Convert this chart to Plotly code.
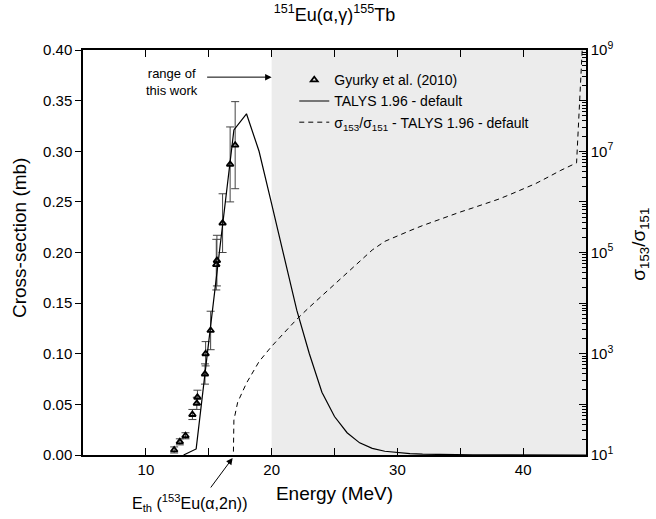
import plotly.graph_objects as go

# Measured 151Eu(a,g)155Tb cross sections (Gyurky et al. 2010)
exp_energy = [12.25, 12.7, 13.15, 13.7, 14.05, 14.1, 14.7, 14.75, 15.15, 15.6, 15.65, 16.1, 16.7, 17.1]
exp_sigma = [0.005, 0.013, 0.019, 0.040, 0.051, 0.057, 0.080, 0.100, 0.123, 0.188, 0.192, 0.229, 0.287, 0.306]
exp_err = [0.003, 0.003, 0.003, 0.005, 0.006, 0.007, 0.010, 0.012, 0.019, 0.025, 0.025, 0.029, 0.037, 0.043]

# TALYS 1.96 default cross section (mb)
talys_energy = [13, 14, 15, 16, 17, 18, 19, 20, 21, 22, 23, 24, 25, 26, 27, 28, 29, 30,
                31, 32, 33, 34, 35, 36, 37, 38, 39, 40, 41, 42, 43, 44, 45]
talys_sigma = [0.0, 0.006, 0.112, 0.218, 0.321, 0.337, 0.300, 0.248, 0.195, 0.143, 0.100,
               0.062, 0.038, 0.022, 0.012, 0.0065, 0.0037, 0.0022, 0.0013, 0.0008, 0.0005,
               0.0003, 0.0002, 0.0001, 0.0001, 0.0, 0.0, 0.0, 0.0, 0.0, 0.0, 0.0, 0.0]

# TALYS ratio sigma_153 / sigma_151
ratio_energy = [16.9, 17.0, 17.3, 18, 19, 20, 21, 22, 23, 24, 25, 26, 27, 28, 29, 30, 31, 32, 33,
                34, 35, 36, 37, 38, 39, 40, 41, 42, 43, 44.25, 45]
ratio_value = [1.0, 49, 110, 263, 700, 1.4e3, 2.6e3, 4.8e3, 8.3e3, 1.4e4, 2.3e4, 4.0e4, 6.8e4,
               1.12e5, 1.66e5, 2.14e5, 2.7e5, 3.4e5, 4.2e5, 5.1e5, 6.3e5, 7.6e5, 9.1e5,
               1.12e6, 1.41e6, 1.78e6, 2.3e6, 3.1e6, 4.2e6, 5.9e6, 3.2e10]

# Right-axis labels
ratio_ticks = [10, 1e2, 1e3, 1e4, 1e5, 1e6, 1e7, 1e8, 1e9]
ratio_ticktext = ["10<sup>1</sup>", "", "10<sup>3</sup>", "", "10<sup>5</sup>", "",
                  "10<sup>7</sup>", "", "10<sup>9</sup>"]
ratio_minor = [m * 10 ** d for d in range(1, 9) for m in range(2, 10)]

FONT = "Arial, Liberation Sans, sans-serif"

fig = go.Figure()

fig.add_trace(go.Scatter(
    x=exp_energy, y=exp_sigma, mode="markers", name="Gyurky et al. (2010)",
    marker=dict(symbol="triangle-up-open", size=6, color="black", line=dict(width=1.8, color="black")),
    error_y=dict(type="data", array=exp_err, visible=True, color="#444444", thickness=1, width=4),
    cliponaxis=False,
))

fig.add_trace(go.Scatter(
    x=talys_energy, y=talys_sigma, mode="lines", name="TALYS 1.96 - default",
    line=dict(color="black", width=1.2),
))

fig.add_trace(go.Scatter(
    x=ratio_energy, y=ratio_value, mode="lines", yaxis="y2",
    name="σ<sub>153</sub>/σ<sub>151</sub> - TALYS 1.96 - default",
    line=dict(color="black", width=1, dash="5px,4px"),
))

# shaded energy range covered by this work
fig.add_shape(type="rect", xref="x", yref="paper", x0=20, x1=45, y0=0, y1=1,
              fillcolor="#ececec", line=dict(width=0), layer="below")

annotations = [
    dict(x=0.375, y=0.933, xref="paper", yref="paper", ax=-66, ay=0,
         text="", showarrow=True, arrowhead=2, arrowsize=1.3, arrowwidth=1, arrowcolor="black"),
    dict(x=0.177, y=0.922, xref="paper", yref="paper", xanchor="center", yanchor="middle",
         text="range of<br>this work", showarrow=False,
         font=dict(size=13, color="black", family=FONT), align="center"),
    dict(x=0.2975, y=-0.0074, xref="paper", yref="paper", ax=-23, ay=31,
         text="", showarrow=True, arrowhead=2, arrowsize=1.3, arrowwidth=1, arrowcolor="black"),
    dict(x=0.2127, y=-0.1185, xref="paper", yref="paper", xanchor="center", yanchor="middle",
         text="E<sub>th</sub> (<sup>153</sup>Eu(α,2n))", showarrow=False,
         font=dict(size=16, color="black", family=FONT)),
    dict(x=-0.125, y=0.536, xref="paper", yref="paper", xanchor="center", yanchor="middle",
         text="Cross-section (mb)", textangle=-90,
         showarrow=False, font=dict(size=19, color="black", family=FONT)),
    dict(x=1.108, y=0.52, xref="paper", yref="paper", xanchor="center", yanchor="middle",
         text="σ<sub>153</sub>/σ<sub>151</sub>",
         textangle=-90, showarrow=False, font=dict(size=19, color="black", family=FONT)),
]

fig.update_layout(
    width=656, height=519,
    margin=dict(l=83, r=70, t=50, b=64),
    paper_bgcolor="white", plot_bgcolor="white",
    font=dict(family=FONT, color="black", size=15),
    title=dict(text="<sup>151</sup>Eu(α,γ)<sup>155</sup>Tb", x=0.51, xanchor="center",
               y=0.972, yanchor="middle", font=dict(size=18, family=FONT, color="black")),
    showlegend=True,
    legend=dict(x=0.42, y=0.965, xanchor="left", yanchor="top", bgcolor="rgba(0,0,0,0)",
                font=dict(size=14, family=FONT, color="black"), tracegroupgap=0),
    xaxis=dict(range=[5, 45], tickvals=[10, 20, 30, 40], ticks="inside", ticklen=7,
               tickwidth=1, tickcolor="black", showline=True, linecolor="black", linewidth=1.5,
               mirror="allticks", showgrid=False, zeroline=False,
               minor=dict(tickvals=[5, 15, 25, 35, 45], ticks="inside", ticklen=7,
                          tickcolor="black", showgrid=False),
               title=dict(text="Energy (MeV)", font=dict(size=19), standoff=10),
               tickfont=dict(size=15)),
    yaxis=dict(range=[0, 0.40], dtick=0.05, tickformat=".2f", ticks="outside", ticklen=6,
               tickcolor="black", showline=True, linecolor="black", linewidth=1.5, mirror=True,
               showgrid=False, zeroline=False, tickfont=dict(size=15)),
    yaxis2=dict(type="log", range=[1, 9], overlaying="y", side="right", tickvals=ratio_ticks,
                ticktext=ratio_ticktext, ticks="inside", ticklen=7, tickcolor="black",
                showline=True, linecolor="black", linewidth=1.5, showgrid=False, zeroline=False,
                minor=dict(ticks="inside", ticklen=4, tickcolor="black", tickvals=ratio_minor,
                           showgrid=False),
                tickfont=dict(size=15)),
    annotations=annotations,
)

fig.write_html("out.html")
